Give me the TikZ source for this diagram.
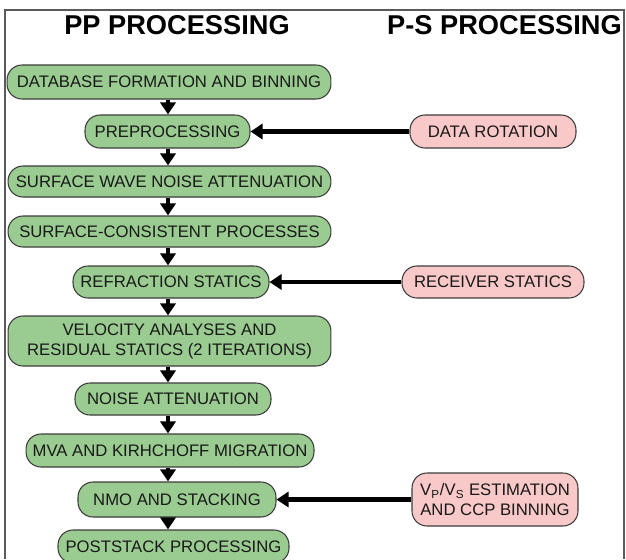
\documentclass[tikz,border=0pt]{standalone}
\usepackage{fontspec}
\setmainfont{Liberation Sans}
\usepackage{tikz}
\usetikzlibrary{arrows.meta,positioning}
\definecolor{ppGreen}{HTML}{9ACC91}
\definecolor{psPink}{HTML}{F8C9C8}
\definecolor{boxEdge}{HTML}{3C3C3C}
\definecolor{frameGray}{HTML}{5A5A5A}

\begin{document}
\begin{tikzpicture}[x=0.02cm,y=-0.02cm,
    font=\fontsize{9.5}{11.4}\selectfont,
    stagebox/.style={draw=boxEdge,line width=0.6pt,rounded corners=0.3cm,
                     inner sep=0pt,align=center,text=black!90},
    ppbox/.style={stagebox,fill=ppGreen},
    psbox/.style={stagebox,fill=psPink},
    flow/.style={line width=2.4pt,-{Triangle[length=0.24cm,width=0.3cm]}},
    hdr/.style={font=\fontsize{15.5}{18}\selectfont\bfseries}]
  \useasboundingbox (0,0) rectangle (626,559);
  \draw[frameGray,line width=0.8pt] (5,559) -- (5,10) -- (624,10) -- (624,559);

  % headings
  \node[hdr] (pphdr) at (177,25) {PP PROCESSING};
  \node[hdr] (pshdr) at (504.5,25) {P-S PROCESSING};

  % PP processing flow
  \node[ppbox,minimum width=6.48cm,minimum height=0.68cm] (db)  at (169,82)    {DATABASE FORMATION AND BINNING};
  \node[ppbox,minimum width=3.30cm,minimum height=0.66cm] (pre) at (167.5,131.5) {PREPROCESSING};
  \node[ppbox,minimum width=6.46cm,minimum height=0.62cm] (swn) at (169.5,181.5) {SURFACE WAVE NOISE ATTENUATION};
  \node[ppbox,minimum width=6.46cm,minimum height=0.62cm] (scp) at (169.5,231.5) {SURFACE-CONSISTENT PROCESSES};
  \node[ppbox,minimum width=3.92cm,minimum height=0.64cm] (ref) at (171,282)   {REFRACTION STATICS};
  \node[ppbox,minimum width=6.46cm,minimum height=1.00cm] (vel) at (169.5,341) {VELOCITY ANALYSES AND\\RESIDUAL STATICS (2 ITERATIONS)};
  \node[ppbox,minimum width=3.92cm,minimum height=0.64cm] (nat) at (173,399)   {NOISE ATTENUATION};
  \node[ppbox,minimum width=5.76cm,minimum height=0.66cm] (mva) at (170,450.5) {MVA AND KIRHCHOFF MIGRATION};
  \node[ppbox,minimum width=3.96cm,minimum height=0.70cm] (nmo) at (177,499.5) {NMO AND STACKING};
  \node[ppbox,minimum width=4.62cm,minimum height=0.66cm] (pst) at (173.5,546.5) {POSTSTACK PROCESSING};

  % P-S processing steps
  \node[psbox,minimum width=3.32cm,minimum height=0.66cm] (rot) at (493,131.5) {DATA ROTATION};
  \node[psbox,minimum width=3.64cm,minimum height=0.64cm] (rcv) at (493,282)   {RECEIVER STATICS};
  \node[psbox,minimum width=3.32cm,minimum height=1.06cm] (vps) at (495,499.5)
    {V\textsubscript{P}/V\textsubscript{S} ESTIMATION\\AND CCP BINNING};

  % connectors
  \coordinate (spine) at (168,0);
  \foreach \a/\b in {db/pre,pre/swn,swn/scp,scp/ref,ref/vel,vel/nat,nat/mva,mva/nmo,nmo/pst}
    \draw[flow] (\a.south -| spine) -- (\b.north -| spine);
  \draw[flow] (rot) -- (pre);
  \draw[flow] (rcv) -- (ref);
  \draw[flow] (vps) -- (nmo);
\end{tikzpicture}
\end{document}
